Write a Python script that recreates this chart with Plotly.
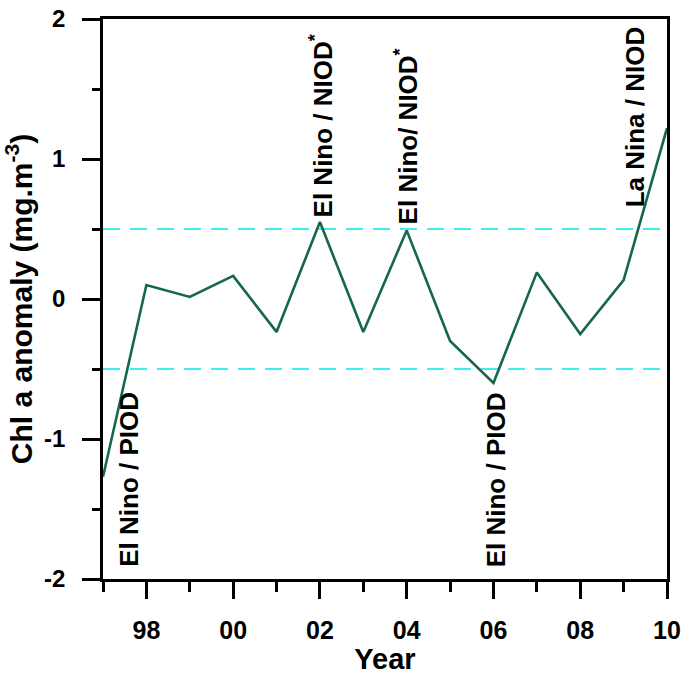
import plotly.graph_objects as go

years = [1997, 1998, 1999, 2000, 2001, 2002, 2003, 2004, 2005, 2006, 2007, 2008, 2009, 2010]
chl_anomaly = [-1.27, 0.10, 0.015, 0.165, -0.235, 0.55, -0.235, 0.49, -0.30, -0.60, 0.19, -0.25, 0.135, 1.22]

thresholds = [0.5, -0.5]

x_tick_vals = [1998, 2000, 2002, 2004, 2006, 2008, 2010]
x_tick_text = ["98", "00", "02", "04", "06", "08", "10"]
y_tick_vals = [-2, -1, 0, 1, 2]
y_tick_text = ["-2", "-1", "0", "1", "2"]

event_labels = ["El Nino / PIOD", "El Nino / NIOD<sup>*</sup>", "El Nino/ NIOD<sup>*</sup>",
                "El Nino / PIOD", "La Nina / NIOD"]
event_x = [1997.6, 2002.03, 2004.0, 2006.05, 2009.25]
event_y = [-1.93, 0.57, 0.52, -1.93, 0.64]

FONT = "Arial, Liberation Sans, sans-serif"

fig = go.Figure()
fig.add_trace(go.Scatter(x=years, y=chl_anomaly, mode="lines",
                         line=dict(color="#16674a", width=2.6),
                         showlegend=False, cliponaxis=False))

for t in thresholds:
    fig.add_shape(type="line", xref="paper", x0=0, x1=1, yref="y", y0=t, y1=t,
                  line=dict(color="#00e8e8", width=1.7, dash="17px,10px"), layer="below")

for txt, xv, yv in zip(event_labels, event_x, event_y):
    fig.add_annotation(x=xv, y=yv, text="<b>" + txt + "</b>", textangle=-90, showarrow=False,
                       xanchor="center", yanchor="bottom",
                       font=dict(family=FONT, size=26, color="black"))

fig.update_layout(
    width=682, height=675,
    margin=dict(l=103, r=15, t=19, b=96, autoexpand=False),
    paper_bgcolor="white", plot_bgcolor="white",
    font=dict(family=FONT, color="black"),
)
fig.update_xaxes(
    range=[1997, 2010], tickvals=x_tick_vals, ticktext=x_tick_text,
    showgrid=False, zeroline=False, automargin=False,
    showline=True, linecolor="black", linewidth=2.5, mirror=True,
    ticks="outside", ticklen=17, tickwidth=2.5, tickcolor="black",
    minor=dict(ticks="outside", ticklen=10, tickwidth=2.5, tickcolor="black", dtick=1, tick0=1997),
    tickfont=dict(family=FONT, size=25, weight="bold"),
    ticklabelstandoff=10,
    title=dict(text="<b>Year</b>", font=dict(family=FONT, size=29), standoff=2),
)
fig.update_yaxes(
    range=[-2, 2], tickvals=y_tick_vals, ticktext=y_tick_text,
    showgrid=False, zeroline=False, automargin=False,
    showline=True, linecolor="black", linewidth=2.5, mirror=True,
    ticks="outside", ticklen=18, tickwidth=2.5, tickcolor="black",
    minor=dict(ticks="outside", ticklen=8, tickwidth=2.5, tickcolor="black", dtick=0.5, tick0=0),
    tickfont=dict(family=FONT, size=24, weight="bold"),
    ticklabelstandoff=12,
    title=dict(text="<b>Chl a anomaly (mg.m<sup>-3</sup>)</b>", font=dict(family=FONT, size=30), standoff=4),
)

fig.write_html("out.html")
